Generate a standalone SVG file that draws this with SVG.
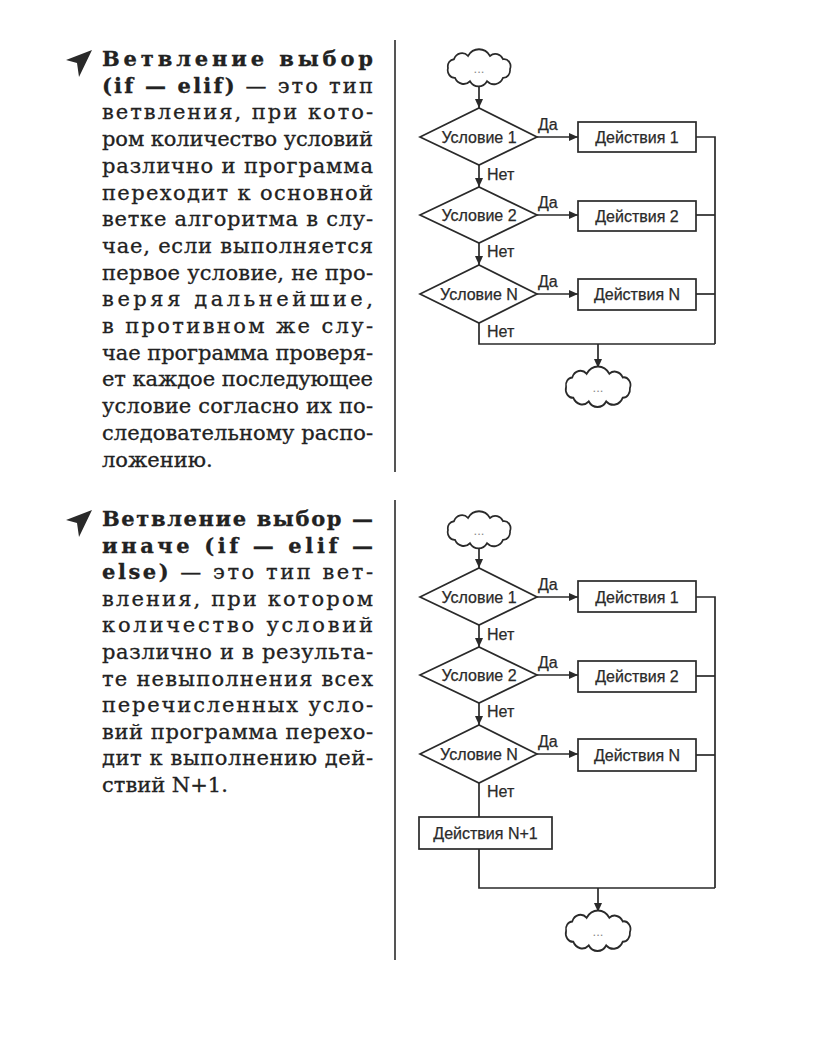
<svg xmlns="http://www.w3.org/2000/svg" xmlns:xlink="http://www.w3.org/1999/xlink" width="816" height="1060" viewBox="0 0 816 1060">
<style>
.b{font-family:"DejaVu Serif","Liberation Serif",serif;font-size:21px;fill:#222;stroke:#222;stroke-width:0.3}
.hb{font-weight:bold}
.fc{font-family:"Liberation Sans",Arial,sans-serif;font-size:16px;fill:#2a2a2a;stroke:#2a2a2a;stroke-width:0.25}
.lbl{font-family:"Liberation Sans",Arial,sans-serif;font-size:16px;fill:#2a2a2a;stroke:#2a2a2a;stroke-width:0.25}
.dots{font-family:"Liberation Sans",Arial,sans-serif;font-size:13px;fill:#888;text-anchor:middle}
.shape{fill:#fff;stroke:#2a2a2a;stroke-width:1.7}
.conn{fill:none;stroke:#2a2a2a;stroke-width:1.7}
.arr{marker-end:url(#ah)}
.div{stroke:#555;stroke-width:2}
.icon{fill:#2a2a2a}
.mid{text-anchor:middle}
</style>
<defs>
<marker id="ah" markerUnits="userSpaceOnUse" markerWidth="9" markerHeight="8" refX="9" refY="4" orient="auto">
<path d="M0,0 L9,4 L0,8 z" fill="#2a2a2a"/>
</marker>
<path id="cloud" d="M-24,9 A7,7 0 0 1 -31,0 A6.5,6.5 0 0 1 -25,-8 A8.6,8.6 0 0 1 -11,-11 A13,13 0 0 1 11,-11 A8.6,8.6 0 0 1 24,-8 A6.5,6.5 0 0 1 31,1 A7,7 0 0 1 24,9 A10,10 0 0 1 8,12 A10,10 0 0 1 -9,12 A9.5,9.5 0 0 1 -24,9 Z"/>
</defs>
<rect width="816" height="1060" fill="#fff"/>

<!-- dividers -->
<line class="div" x1="395" y1="40" x2="395" y2="472"/>
<line class="div" x1="395" y1="500" x2="395" y2="960"/>

<!-- paragraph 1 -->
<g id="text1">
<polygon class="icon" points="92,50 66,60 77,63 79,77"/>
<text class="b hb" x="102" y="66" textLength="271" lengthAdjust="spacing">Ветвление выбор</text>
<text class="b" x="102" y="92.7" textLength="271" lengthAdjust="spacing"><tspan class="hb">(if — elif)</tspan> — это тип</text>
<text class="b" x="102" y="119.4" textLength="271" lengthAdjust="spacing">ветвления, при кото-</text>
<text class="b" x="102" y="146.1" textLength="271" lengthAdjust="spacing">ром количество условий</text>
<text class="b" x="102" y="172.8" textLength="271" lengthAdjust="spacing">различно и программа</text>
<text class="b" x="102" y="199.5" textLength="271" lengthAdjust="spacing">переходит к основной</text>
<text class="b" x="102" y="226.2" textLength="271" lengthAdjust="spacing">ветке алгоритма в слу-</text>
<text class="b" x="102" y="252.9" textLength="271" lengthAdjust="spacing">чае, если выполняется</text>
<text class="b" x="102" y="279.6" textLength="271" lengthAdjust="spacing">первое условие, не про-</text>
<text class="b" x="102" y="306.3" textLength="271" lengthAdjust="spacing">веряя дальнейшие,</text>
<text class="b" x="102" y="333" textLength="271" lengthAdjust="spacing">в противном же слу-</text>
<text class="b" x="102" y="359.7" textLength="271" lengthAdjust="spacing">чае программа проверя-</text>
<text class="b" x="102" y="386.4" textLength="271" lengthAdjust="spacing">ет каждое последующее</text>
<text class="b" x="102" y="413.1" textLength="271" lengthAdjust="spacing">условие согласно их по-</text>
<text class="b" x="102" y="439.8" textLength="271" lengthAdjust="spacing">следовательному распо-</text>
<text class="b" x="102" y="466.5">ложению.</text>
</g>

<!-- paragraph 2 -->
<g id="text2">
<polygon class="icon" points="92,510 66,520 77,523 79,537"/>
<text class="b hb" x="102" y="526" textLength="271" lengthAdjust="spacing">Ветвление выбор —</text>
<text class="b hb" x="102" y="552.6" textLength="271" lengthAdjust="spacing">иначе (if — elif —</text>
<text class="b" x="102" y="579.2" textLength="271" lengthAdjust="spacing"><tspan class="hb">else)</tspan> — это тип вет-</text>
<text class="b" x="102" y="605.8" textLength="271" lengthAdjust="spacing">вления, при котором</text>
<text class="b" x="102" y="632.4" textLength="271" lengthAdjust="spacing">количество условий</text>
<text class="b" x="102" y="659" textLength="271" lengthAdjust="spacing">различно и в результа-</text>
<text class="b" x="102" y="685.6" textLength="271" lengthAdjust="spacing">те невыполнения всех</text>
<text class="b" x="102" y="712.2" textLength="271" lengthAdjust="spacing">перечисленных усло-</text>
<text class="b" x="102" y="738.8" textLength="271" lengthAdjust="spacing">вий программа перехо-</text>
<text class="b" x="102" y="765.4" textLength="271" lengthAdjust="spacing">дит к выполнению дей-</text>
<text class="b" x="102" y="792">ствий N+1.</text>
</g>

<!-- ===== Diagram 1 connectors ===== -->
<g id="connectors1">
<line class="conn arr" x1="479" y1="85" x2="479" y2="108"/>
<line class="conn arr" x1="537" y1="137" x2="578" y2="137"/>
<line class="conn arr" x1="479" y1="165" x2="479" y2="187"/>
<line class="conn arr" x1="537" y1="215" x2="578" y2="215"/>
<line class="conn arr" x1="479" y1="243" x2="479" y2="265"/>
<line class="conn arr" x1="537" y1="294" x2="578" y2="294"/>
<polyline class="conn" points="696,137 715,137 715,344"/>
<line class="conn" x1="696" y1="215" x2="715" y2="215"/>
<line class="conn" x1="696" y1="294" x2="715" y2="294"/>
<polyline class="conn" points="479,323 479,344 715,344"/>
<line class="conn arr" x1="598" y1="344" x2="598" y2="368"/>
<text class="lbl" x="538" y="130">Да</text>
<text class="lbl" x="538" y="208">Да</text>
<text class="lbl" x="538" y="287">Да</text>
<text class="lbl" x="487" y="180">Нет</text>
<text class="lbl" x="487" y="257">Нет</text>
<text class="lbl" x="487" y="337">Нет</text>
</g>

<g id="d1-start"><use xlink:href="#cloud" class="shape" transform="translate(479,68) scale(1,1.1)"/><text class="dots" x="479" y="73">...</text></g>
<g id="d1-cond1"><polygon class="shape" points="420,137 479,108 537,137 479,165"/><text class="fc mid" x="479" y="143">Условие 1</text></g>
<g id="d1-act1"><rect class="shape" x="578" y="122" width="118" height="30"/><text class="fc mid" x="637" y="143">Действия 1</text></g>
<g id="d1-cond2"><polygon class="shape" points="420,215 479,187 537,215 479,243"/><text class="fc mid" x="479" y="221">Условие 2</text></g>
<g id="d1-act2"><rect class="shape" x="578" y="201" width="118" height="30"/><text class="fc mid" x="637" y="222">Действия 2</text></g>
<g id="d1-condN"><polygon class="shape" points="420,294 479,265 537,294 479,323"/><text class="fc mid" x="479" y="300">Условие N</text></g>
<g id="d1-actN"><rect class="shape" x="578" y="279" width="118" height="31"/><text class="fc mid" x="637" y="300">Действия N</text></g>
<g id="d1-end"><use xlink:href="#cloud" class="shape" transform="translate(598,387) scale(1.03,1.2)"/><text class="dots" x="598" y="392">...</text></g>

<!-- ===== Diagram 2 connectors ===== -->
<g id="connectors2">
<line class="conn arr" x1="479" y1="547" x2="479" y2="568"/>
<line class="conn arr" x1="537" y1="597" x2="578" y2="597"/>
<line class="conn arr" x1="479" y1="625" x2="479" y2="647"/>
<line class="conn arr" x1="537" y1="675" x2="578" y2="675"/>
<line class="conn arr" x1="479" y1="703" x2="479" y2="725"/>
<line class="conn arr" x1="537" y1="754" x2="578" y2="754"/>
<polyline class="conn" points="696,597 715,597 715,888"/>
<line class="conn" x1="696" y1="676" x2="715" y2="676"/>
<line class="conn" x1="696" y1="755" x2="715" y2="755"/>
<line class="conn" x1="479" y1="783" x2="479" y2="817"/>
<polyline class="conn" points="479,849 479,888 715,888"/>
<line class="conn arr" x1="598" y1="888" x2="598" y2="912"/>
<text class="lbl" x="538" y="590">Да</text>
<text class="lbl" x="538" y="668">Да</text>
<text class="lbl" x="538" y="747">Да</text>
<text class="lbl" x="487" y="640">Нет</text>
<text class="lbl" x="487" y="717">Нет</text>
<text class="lbl" x="487" y="797">Нет</text>
</g>

<g id="d2-start"><use xlink:href="#cloud" class="shape" transform="translate(479,530) scale(1,1.1)"/><text class="dots" x="479" y="535">...</text></g>
<g id="d2-cond1"><polygon class="shape" points="420,597 479,568 537,597 479,625"/><text class="fc mid" x="479" y="603">Условие 1</text></g>
<g id="d2-act1"><rect class="shape" x="578" y="581" width="118" height="31"/><text class="fc mid" x="637" y="603">Действия 1</text></g>
<g id="d2-cond2"><polygon class="shape" points="420,675 479,647 537,675 479,703"/><text class="fc mid" x="479" y="681">Условие 2</text></g>
<g id="d2-act2"><rect class="shape" x="578" y="661" width="118" height="31"/><text class="fc mid" x="637" y="682">Действия 2</text></g>
<g id="d2-condN"><polygon class="shape" points="420,754 479,725 537,754 479,783"/><text class="fc mid" x="479" y="760">Условие N</text></g>
<g id="d2-actN"><rect class="shape" x="578" y="739" width="118" height="32"/><text class="fc mid" x="637" y="761">Действия N</text></g>
<g id="d2-actN1"><rect class="shape" x="419" y="817" width="133" height="32"/><text class="fc mid" x="485.5" y="839">Действия N+1</text></g>
<g id="d2-end"><use xlink:href="#cloud" class="shape" transform="translate(598,931) scale(1.03,1.2)"/><text class="dots" x="598" y="936">...</text></g>
</svg>
